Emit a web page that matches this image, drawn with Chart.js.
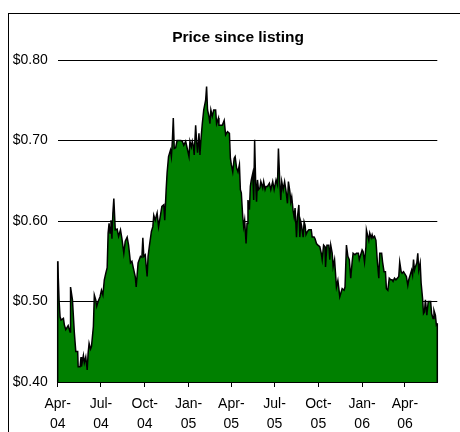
<!DOCTYPE html>
<html><head><meta charset="utf-8">
<script src="https://cdn.jsdelivr.net/npm/chart.js@4.4.1/dist/chart.umd.min.js"></script>
<style>html,body{margin:0;padding:0;background:#fff;}canvas{display:block;}</style>
</head><body>
<canvas id="c" width="460" height="432"></canvas>
<script>
const chartTitle = 'Price since listing';
// days since listing (day 0 = 1 Apr 2004)
const listingDays = [
  0,3,5,7,12,14,17,22,26,27,31,35,38,42,43,47,49,50,54,56,59,62,64,66,69,71,75,77,80,82,85,89,92,95,98,101,104,106,108,110,112,114,116,118,121,
  125,128,132,135,139,142,146,149,153,156,160,163,165,169,174,177,179,181,184,188,190,193,197,200,202,205,209,212,216,219,223,225,228,230,233,237,
  239,241,243,245,248,251,255,259,262,265,269,272,276,278,281,283,285,287,290,292,294,297,299,301,304,307,311,313,315,318,320,322,325,328,332,334,338,339,343,346,350,353,
  357,361,363,365,368,371,373,376,379,382,384,386,389,391,393,396,398,400,403,405,407,410,412,414,416,418,420,422,425,427,431,433,436,438,441,445,448,452,455,459,462,464,467,469,471,474,477,
  480,483,485,488,490,492,495,497,499,502,504,507,509,511,513,516,518,520,522,525,528,533,535,539,541,544,547,551,554,556,559,562,563,566,570,572,574,577,579,582,584,586,589,593,
  595,598,602,604,607,610,613,616,619,621,625,628,632,634,637,640,642,645,648,649,652,654,656,659,661,663,666,669,672,675,677,681,683,686,689,691,694,697,700,703,705,708,711,714,717,
  719,722,724,727,731,733,736,738,741,744,746,748,750,752,755,757,759,762,764,767,769,771,773,776,779,782,784,786,789,791,794,796,798
];
const prices = [
  0.550,0.500,0.481,0.477,0.479,0.471,0.465,0.470,0.462,0.518,0.502,0.461,0.438,0.438,0.419,0.419,0.431,0.419,0.433,0.424,0.431,0.415,0.436,0.448,0.441,0.444,0.469,0.508,0.502,0.494,0.500,0.506,0.514,0.508,0.527,0.535,0.542,0.585,0.597,0.585,0.601,0.578,0.610,0.628,0.589,
  0.590,0.581,0.589,0.578,0.560,0.575,0.580,0.570,0.548,0.550,0.539,0.531,0.518,0.548,0.556,0.555,0.579,0.556,0.558,0.531,0.556,0.570,0.587,0.593,0.607,0.601,0.610,0.593,0.607,0.618,0.620,0.601,0.639,0.660,0.680,0.688,
  0.680,0.699,0.728,0.690,0.691,0.700,0.700,0.700,0.699,0.694,0.699,0.691,0.680,0.699,0.692,0.699,0.694,0.682,0.719,0.699,0.685,0.709,0.682,0.700,0.721,0.738,0.750,0.767,0.738,0.730,0.721,0.738,0.730,0.738,0.738,0.721,0.728,0.719,0.719,0.719,0.725,0.707,
  0.711,0.709,0.678,0.670,0.661,0.678,0.680,0.666,0.661,0.670,0.639,0.635,0.605,0.593,0.601,0.572,0.597,0.626,0.614,0.643,0.651,0.659,0.626,0.701,0.651,0.624,0.651,0.639,0.641,0.649,0.641,0.649,0.639,0.643,0.643,0.647,0.639,0.649,0.639,0.651,0.645,0.690,0.647,0.626,0.649,0.639,0.649,
  0.637,0.622,0.649,0.637,0.624,0.630,0.612,0.605,0.616,0.580,0.605,0.620,0.580,0.599,0.593,0.580,0.599,0.595,0.583,0.587,0.589,0.589,0.580,0.580,0.578,0.572,0.570,0.568,0.560,0.552,0.570,0.568,0.543,0.570,0.570,0.552,0.570,0.560,0.543,0.552,0.535,0.518,0.526,0.506,
  0.510,0.516,0.514,0.518,0.570,0.556,0.552,0.529,0.549,0.560,0.558,0.560,0.560,0.552,0.558,0.564,0.562,0.549,0.568,0.589,0.581,0.576,0.585,0.579,0.583,0.579,0.581,0.576,0.549,0.529,0.560,0.560,0.549,0.537,0.537,0.516,0.514,0.529,0.527,0.527,0.525,0.529,0.527,0.529,0.531,
  0.549,0.537,0.535,0.537,0.533,0.531,0.520,0.527,0.533,0.539,0.533,0.552,0.539,0.543,0.548,0.560,0.539,0.548,0.523,0.504,0.485,0.487,0.502,0.483,0.500,0.500,0.500,0.485,0.479,0.489,0.483,0.471,0.473
];
const tickDays = [0, 91, 183, 275, 365, 456, 548, 640, 730];
const tickLabels = [['Apr-','04'],['Jul-','04'],['Oct-','04'],['Jan-','05'],['Apr-','05'],['Jul-','05'],['Oct-','05'],['Jan-','06'],['Apr-','06']];
const priceTicks = [0.40, 0.50, 0.60, 0.70, 0.80];
const lastDay = 798;

const FONT = "'Liberation Sans', Arial, sans-serif";

const framePlugin = {
  id: 'frame',
  afterLayout(chart) {
    const t = chart.titleBlock;
    if (t) { t.left += 13.4; t.right += 13.4; }
  },
  beforeDraw(chart) {
    const ctx = chart.ctx;
    ctx.save();
    ctx.fillStyle = '#fff';
    ctx.fillRect(0, 0, chart.width, chart.height);
    ctx.strokeStyle = '#000';
    ctx.lineWidth = 1;
    ctx.strokeRect(8.5, 13.5, chart.width + 20, chart.height + 20);
    ctx.restore();
  },
  afterDatasetsDraw(chart) {
    const ctx = chart.ctx;
    const pts = chart.getDatasetMeta(0).data;
    const yb = chart.scales.y.getPixelForValue(priceTicks[0]);
    ctx.save();
    ctx.strokeStyle = '#000';
    ctx.lineWidth = 1.5;
    ctx.beginPath();
    ctx.moveTo(pts[0].x, pts[0].y); ctx.lineTo(pts[0].x, yb);
    const p = pts[pts.length - 1];
    ctx.moveTo(p.x, p.y); ctx.lineTo(p.x, yb);
    ctx.stroke();
    ctx.restore();
  }
};

new Chart(document.getElementById('c'), {
  type: 'line',
  data: {
    datasets: [{
      data: listingDays.map((d, i) => ({ x: d, y: prices[i] })),
      borderColor: '#000',
      borderWidth: 1.5,
      backgroundColor: '#008000',
      fill: 'start',
      pointRadius: 0,
      tension: 0
    }]
  },
  options: {
    responsive: false,
    animation: false,
    devicePixelRatio: 1,
    layout: { padding: { left: 12, right: 22.7, top: 0, bottom: 0 } },
    plugins: {
      legend: { display: false },
      tooltip: { enabled: false },
      title: {
        display: true,
        text: chartTitle,
        color: '#000',
        font: { family: FONT, size: 15.5, weight: 'bold', lineHeight: 1.2 },
        padding: { top: 28, bottom: 13.4 }
      }
    },
    scales: {
      x: {
        type: 'linear',
        min: 0,
        max: lastDay,
        z: 1,
        afterBuildTicks: (s) => { s.ticks = tickDays.map(v => ({ value: v })); },
        afterFit: (s) => { s.height = 50; },
        ticks: {
          autoSkip: false,
          maxRotation: 0,
          color: '#000',
          padding: 7,
          font: { family: FONT, size: 14, lineHeight: 1.43 },
          callback: (v) => { const i = tickDays.indexOf(v); return i >= 0 ? tickLabels[i] : ''; }
        },
        grid: { display: true, drawOnChartArea: false, drawTicks: true, tickLength: 5, color: '#000', lineWidth: 1 },
        border: { display: true, color: '#000', width: 1 }
      },
      y: {
        min: priceTicks[0],
        max: priceTicks[priceTicks.length - 1],
        afterBuildTicks: (s) => { s.ticks = priceTicks.map(v => ({ value: v })); },
        afterFit: (s) => { s.width = 45.7; },
        ticks: {
          color: '#000',
          padding: 10,
          font: { family: FONT, size: 14 },
          callback: (v) => '$' + Number(v).toFixed(2)
        },
        grid: { color: '#000', lineWidth: 1, drawTicks: false },
        border: { display: false }
      }
    }
  },
  plugins: [framePlugin]
});
</script>
</body></html>
